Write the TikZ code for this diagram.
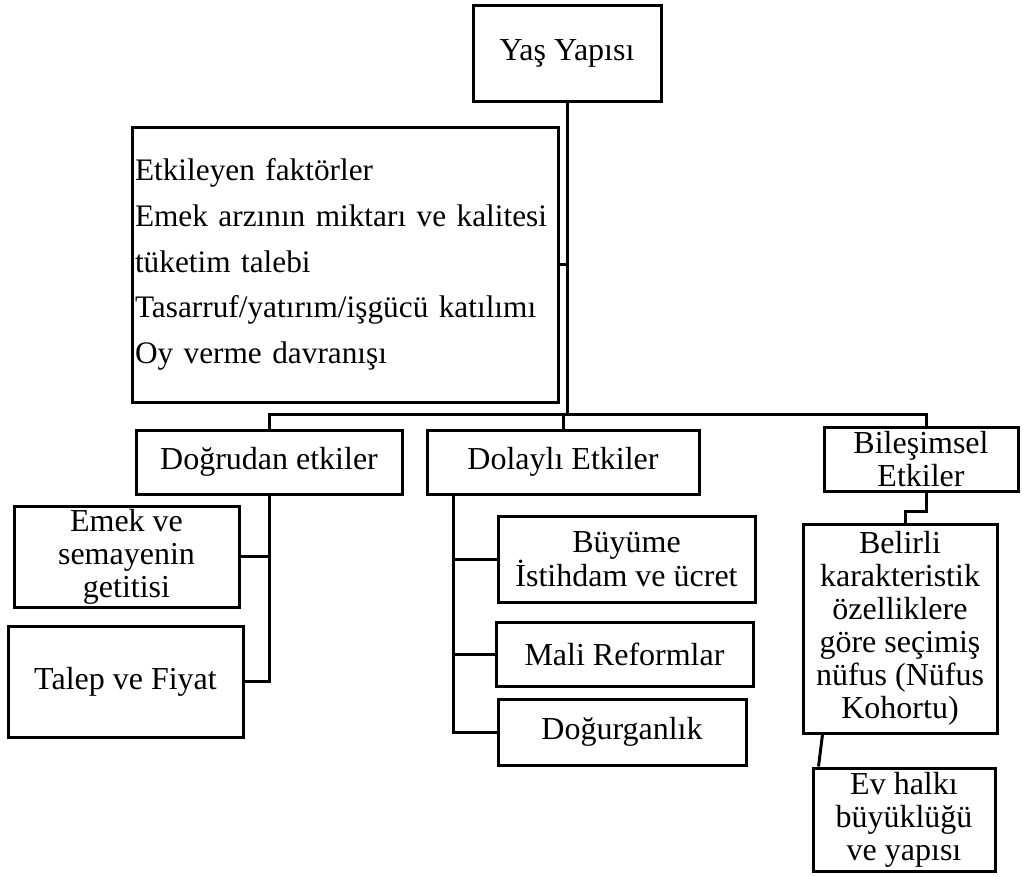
\documentclass[tikz,border=0pt]{standalone}
\usepackage{fontspec}
\setmainfont{Liberation Serif}
\begin{document}
\begin{tikzpicture}[x=1pt,y=-1pt,
  box/.style={draw,line width=3pt,inner sep=2pt,align=center,font=\fontsize{32}{33}\selectfont},
  conn/.style={line width=3pt}]
\useasboundingbox (0,0) rectangle (1022,876);
\node[box,minimum width=188,minimum height=96] (yas) at (567,53) {Yaş Yapısı};
\node[box,minimum width=426,minimum height=275,text width=420,align=left,inner sep=3pt,
      font=\fontsize{31.3}{45.7}\selectfont] (etk) at (345,264.5)
  {Etkileyen faktörler\\\mbox{Emek arzının miktarı ve kalitesi}\\tüketim talebi\\\mbox{Tasarruf/yatırım/işgücü katılımı}\\Oy verme davranışı};
\node[box,minimum width=266,minimum height=64] (dog) at (269,462) {Doğrudan etkiler};
\node[box,minimum width=272,minimum height=64] (dol) at (563,462) {Dolaylı Etkiler};
\node[box,minimum width=194,minimum height=64] (bil) at (921,459) {Bileşimsel\\Etkiler};
\node[box,minimum width=225,minimum height=101] (emek) at (126.5,556.5) {Emek ve\\semayenin\\getitisi};
\node[box,minimum width=235,minimum height=111] (talep) at (125.5,681.5) {Talep ve Fiyat};
\node[box,minimum width=257,minimum height=86] (buy) at (626.5,559) {Büyüme\\İstihdam ve ücret};
\node[box,minimum width=257,minimum height=64] (mali) at (624.5,654) {Mali Reformlar};
\node[box,minimum width=248,minimum height=66] (dogur) at (622,732) {Doğurganlık};
\node[box,minimum width=194,minimum height=209] (bel) at (900,628.5)
  {Belirli\\karakteristik\\özelliklere\\göre seçimiş\\nüfus (Nüfus\\Kohortu)};
\node[box,minimum width=182,minimum height=103] (ev) at (904,819.5) {Ev halkı\\büyüklüğü\\ve yapısı};

\coordinate (bus) at (567,414);
\draw[conn] (yas.south) -- (bus);
\draw[conn] (etk.east) -- (etk.east -| yas.south);
\draw[conn] (dog.north) -- (dog.north |- bus) -| ([xshift=5pt]bil.north);
\draw[conn] (dol.north) -- (dol.north |- bus);
\draw[conn] (dog.south) |- (talep.east);
\draw[conn] (emek.east) -- (emek.east -| dog.south);
\coordinate (dv) at ([xshift=28pt]dol.south west);
\draw[conn] (dv) |- (dogur.west);
\draw[conn] (buy.west) -- (buy.west -| dv);
\draw[conn] (mali.west) -- (mali.west -| dv);
\draw[conn] ([xshift=5pt]bil.south) -- ++(0,19) -| ([xshift=5pt]bel.north);
\draw[conn] ([xshift=21pt]bel.south west) -- ([xshift=7pt]ev.north west);
\end{tikzpicture}
\end{document}
